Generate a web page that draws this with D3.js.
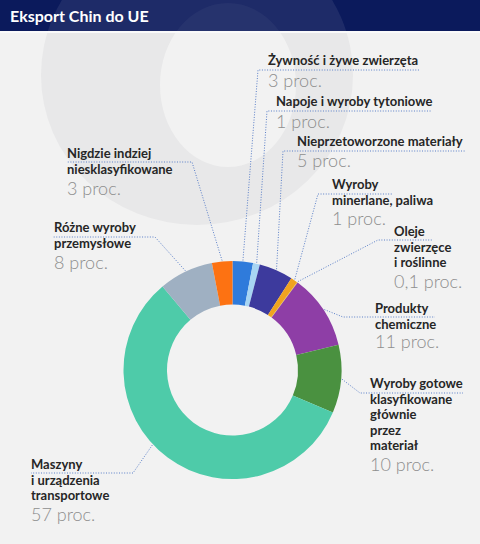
<!DOCTYPE html>
<html>
<head>
<meta charset="utf-8">
<script src="https://cdn.jsdelivr.net/npm/d3@7"></script>
<style>
  body { margin: 0; background: #f2f2f2; }
  svg { display: block; font-family: Lato, "Open Sans", sans-serif; }
  .label { font-weight: 700; font-size: 13px; fill: #262626; }
  .pct { font-weight: 300; font-size: 18px; fill: #8e8e8e; }
  .leader { fill: none; stroke: #5a7fc8; stroke-width: 1; stroke-dasharray: 1 1.6; }
</style>
</head>
<body>
<div id="chart"></div>
<script>
// Data (per cent of Chinese exports to the EU)
const categories = [
  "Żywność i żywe zwierzęta",
  "Napoje i wyroby tytoniowe",
  "Nieprzetoworzone materiały",
  "Wyroby minerlane, paliwa",
  "Oleje zwierzęce i roślinne",
  "Produkty chemiczne",
  "Wyroby gotowe klasyfikowane głównie przez materiał",
  "Maszyny i urządzenia transportowe",
  "Różne wyroby przemysłowe",
  "Nigdzie indziej niesklasyfikowane"
];
const values = [3, 1, 5, 1, 0.1, 11, 10, 57, 8, 3];
const valueLabels = ["3 proc.", "1 proc.", "5 proc.", "1 proc.", "0,1 proc.", "11 proc.", "10 proc.", "57 proc.", "8 proc.", "3 proc."];
const colors = ["#2f7bdb", "#a7d5f3", "#3d3a9d", "#f0a31f", "#e8c23a", "#8e3ea6", "#4a9140", "#4ecba9", "#9fb0c2", "#fd7212"];

// How the labels are broken into lines
const labelLines = [
  ["Żywność i żywe zwierzęta"],
  ["Napoje i wyroby tytoniowe"],
  ["Nieprzetoworzone materiały"],
  ["Wyroby", "minerlane, paliwa"],
  ["Oleje", "zwierzęce", "i roślinne"],
  ["Produkty", "chemiczne"],
  ["Wyroby gotowe", "klasyfikowane", "głównie", "przez", "materiał"],
  ["Maszyny", "i urządzenia", "transportowe"],
  ["Różne wyroby", "przemysłowe"],
  ["Nigdzie indziej", "niesklasyfikowane"]
];

// Label placement (layout only)
// x,y: first line baseline; u0..u1 at uy: dotted underline; side: where the elbow is; py: value baseline
const layout = [
  { x: 268, y: 65, u0: 258, u1: 420, uy: 70, side: "left", py: 87 },
  { x: 276, y: 106, u0: 267, u1: 431, uy: 111, side: "left", py: 128 },
  { x: 297, y: 146, u0: 283, u1: 465, uy: 151, side: "left", py: 167 },
  { x: 332, y: 189, u0: 318, u1: 393, uy: 194, side: "left", py: 225 },
  { x: 394, y: 236, u0: 378, u1: 432, uy: 240, side: "left", py: 288 },
  { x: 375, y: 313, u0: 343, u1: 435, uy: 317, side: "left", py: 348 },
  { x: 370, y: 388, u0: 360, u1: 463, uy: 393, side: "left", py: 471 },
  { x: 31, y: 469, u0: 31, u1: 133, uy: 473, side: "right", py: 521, t: 0.55 },
  { x: 54, y: 232, u0: 53, u1: 155, uy: 237, side: "right", py: 269 },
  { x: 67, y: 158, u0: 67, u1: 192, uy: 162, side: "right", py: 195 }
];

const width = 480, height = 544;
const cx = 232.5, cy = 370, rOuter = 109, rInner = 65.5;
const lineH = 15.5;

const svg = d3.select("#chart")
  .append("svg")
  .attr("width", width)
  .attr("height", height);

// background + watermark ring
svg.append("rect").attr("width", width).attr("height", height).attr("fill", "#f2f2f2");

const defs = svg.append("defs");
defs.append("clipPath").attr("id", "headClip")
  .append("rect").attr("width", width).attr("height", 31);
defs.append("clipPath").attr("id", "bodyClip")
  .append("rect").attr("y", 31).attr("width", width).attr("height", height - 31);

function ellipsePath(x, y, rx, ry) {
  return "M" + (x - rx) + "," + y +
    "a" + rx + "," + ry + " 0 1,0 " + (2 * rx) + ",0" +
    "a" + rx + "," + ry + " 0 1,0 " + (-2 * rx) + ",0Z";
}
const ringPath = ellipsePath(197, 75, 156, 150) + ellipsePath(228, 85, 68, 82);

svg.append("path")
  .attr("clip-path", "url(#bodyClip)")
  .attr("d", ringPath)
  .attr("fill-rule", "evenodd")
  .attr("fill", "#e8e8e9");

// header
svg.append("rect").attr("width", width).attr("height", 31).attr("fill", "#0b1a5c");
svg.append("path")
  .attr("clip-path", "url(#headClip)")
  .attr("d", ellipsePath(197, 75, 156, 150))
  .attr("fill", "#ffffff").attr("opacity", 0.08);
svg.append("path")
  .attr("clip-path", "url(#headClip)")
  .attr("d", ellipsePath(228, 85, 68, 82))
  .attr("fill", "#ffffff").attr("opacity", 0.04);
svg.append("rect").attr("y", 31).attr("width", width).attr("height", 2).attr("fill", "#fafafa");
svg.append("text")
  .attr("x", 10)
  .attr("y", 22)
  .attr("fill", "#fff")
  .style("font-weight", 700)
  .style("font-size", "16px")
  .text("Eksport Chin do UE");

// donut
const pie = d3.pie().sort(null).value((d) => d)(values);
const arc = d3.arc().innerRadius(rInner).outerRadius(rOuter);

const g = svg.append("g").attr("transform", "translate(" + cx + "," + cy + ")");
g.selectAll("path")
  .data(pie)
  .join("path")
  .attr("d", arc)
  .attr("fill", (d, i) => colors[i]);

// leader lines
function anchor(d, i) {
  let t = layout[i].t === undefined ? 0.5 : layout[i].t;
  let a = d.startAngle + (d.endAngle - d.startAngle) * t;
  let r = rOuter + 1;
  return [cx + r * Math.sin(a), cy - r * Math.cos(a)];
}

svg.append("g")
  .selectAll("path")
  .data(pie)
  .join("path")
  .attr("class", "leader")
  .attr("d", (d, i) => {
    let L = layout[i];
    let p = anchor(d, i);
    let elbow = L.side === "left" ? [L.u0, L.uy] : [L.u1, L.uy];
    let end = L.side === "left" ? [L.u1, L.uy] : [L.u0, L.uy];
    return d3.line()([p, elbow, end]);
  });

// labels
const labels = svg.append("g")
  .selectAll("g")
  .data(categories)
  .join("g");

labels.each(function (c, i) {
  let L = layout[i];
  let sel = d3.select(this);
  labelLines[i].forEach((ln, k) => {
    sel.append("text")
      .attr("class", "label")
      .attr("x", L.x)
      .attr("y", L.y + k * lineH)
      .text(ln);
  });
  sel.append("text")
    .attr("class", "pct")
    .attr("x", L.x)
    .attr("y", L.py)
    .text(valueLabels[i]);
});
</script>
</body>
</html>
